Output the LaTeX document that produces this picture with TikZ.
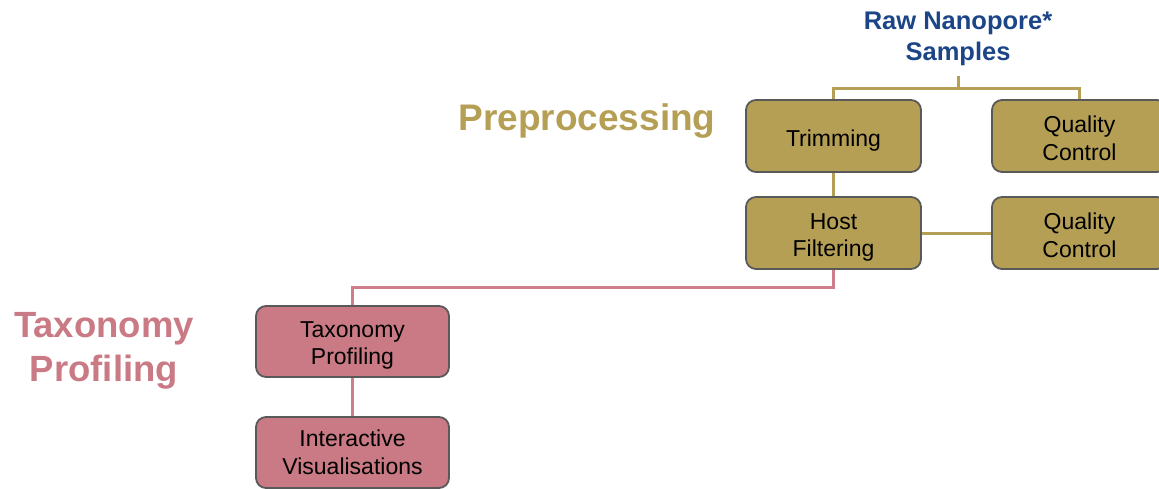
\documentclass[tikz,border=0pt]{standalone}
\usepackage{fontspec}
\setmainfont{Liberation Sans}
\definecolor{goldfill}{HTML}{B59F55}
\definecolor{goldline}{HTML}{B59F55}
\definecolor{pinkfill}{HTML}{C97A84}
\definecolor{pinkline}{HTML}{CF7E89}
\definecolor{boxborder}{HTML}{595959}
\definecolor{navy}{HTML}{1C4587}
\newcommand{\hstrut}[1]{\rule{0pt}{#1}}
\begin{document}
\begin{tikzpicture}[x=1pt,y=-1pt,
  stepbox/.style={draw=boxborder,line width=1.8pt,rounded corners=10pt,
    minimum width=175pt,minimum height=72pt,align=center,inner sep=0pt,
    font=\fontsize{23}{27.6}\selectfont},
  goldbox/.style={stepbox,fill=goldfill},
  pinkbox/.style={stepbox,fill=pinkfill,minimum width=193pt,minimum height=71pt},
  goldconn/.style={draw=goldline,line width=3pt},
  pinkconn/.style={draw=pinkline,line width=3pt}]
\useasboundingbox (0,0) rectangle (1159,488);
\node[font=\bfseries\fontsize{25.5}{31}\selectfont,text=navy,align=center] (raw) at (958,38.5) {Raw Nanopore*\\Samples};
\node[font=\bfseries\fontsize{37}{44}\selectfont,text=goldline] (pre) at (587,121) {Preprocessing};
\node[font=\bfseries\fontsize{36.5}{44}\selectfont,text=pinkfill,align=center] (taxlab) at (104,351) {Taxonomy\\Profiling};
\node[goldbox] (trim) at (833.5,136) {\hstrut{25pt}Trimming};
\node[goldbox] (qc1) at (1079.5,136) {\hstrut{21pt}Quality\\Control};
\node[goldbox] (host) at (833.5,233) {\hstrut{25pt}Host\\Filtering};
\node[goldbox] (qc2) at (1079.5,233) {\hstrut{21pt}Quality\\Control};
\node[pinkbox] (tax) at (352.5,341.5) {\hstrut{24pt}Taxonomy\\Profiling};
\node[pinkbox] (vis) at (352.5,452.5) {Interactive\\Visualisations};
\coordinate (rawstub) at (958.5,76);
\coordinate (split) at (958.5,88);
\draw[goldconn] (rawstub) -- (split);
\draw[goldconn] (trim.north) |- (split) -| (qc1.north);
\draw[goldconn] (trim.south) -- (host.north);
\draw[goldconn] (host.east) -- (qc2.west);
\draw[pinkconn] (host.south) |- (352.5,287) -- (tax.north);
\draw[pinkconn] (tax.south) -- (vis.north);
\end{tikzpicture}
\end{document}
